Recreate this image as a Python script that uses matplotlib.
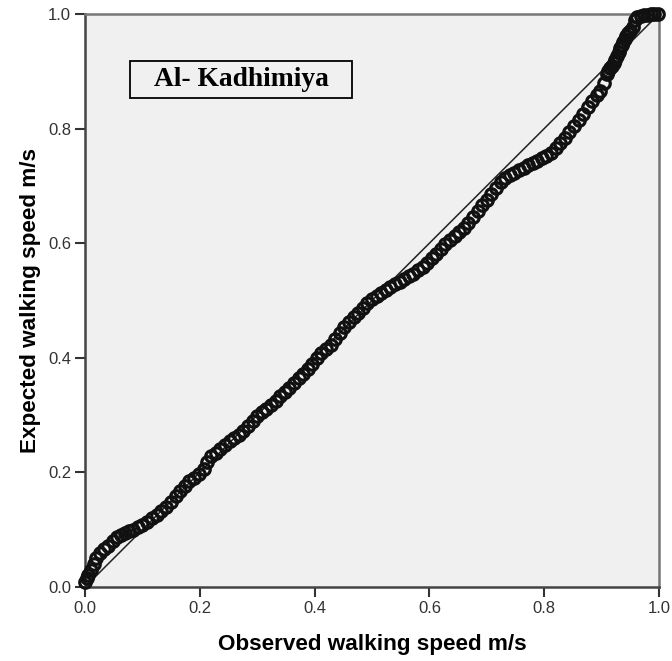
import matplotlib.pyplot as plt
from matplotlib.patches import Rectangle

# observed vs expected cumulative proportions
observed = [0.000, 0.003, 0.005, 0.010, 0.015, 0.020, 0.026, 0.033, 0.040, 0.048,
            0.055, 0.062, 0.070, 0.077, 0.084, 0.092, 0.100, 0.108, 0.116, 0.125,
            0.133, 0.141, 0.150, 0.158, 0.166, 0.174, 0.182, 0.190, 0.199, 0.207,
            0.213, 0.220, 0.228, 0.236, 0.244, 0.252, 0.260, 0.268, 0.276, 0.284,
            0.292, 0.300, 0.308, 0.316, 0.324, 0.332, 0.340, 0.348, 0.356, 0.364,
            0.372, 0.380, 0.388, 0.396, 0.404, 0.412, 0.420, 0.428, 0.436, 0.444,
            0.452, 0.460, 0.468, 0.476, 0.484, 0.492, 0.500, 0.508, 0.516, 0.524,
            0.532, 0.540, 0.548, 0.556, 0.564, 0.572, 0.580, 0.588, 0.596, 0.604,
            0.612, 0.620, 0.628, 0.636, 0.644, 0.652, 0.660, 0.668, 0.676, 0.684,
            0.692, 0.700, 0.708, 0.716, 0.724, 0.732, 0.740, 0.748, 0.756, 0.764,
            0.772, 0.780, 0.788, 0.796, 0.804, 0.812, 0.820, 0.828, 0.836, 0.844,
            0.852, 0.860, 0.868, 0.876, 0.884, 0.892, 0.898, 0.905, 0.909, 0.912,
            0.915, 0.918, 0.921, 0.924, 0.927, 0.930, 0.932, 0.935, 0.937, 0.940,
            0.943, 0.946, 0.949, 0.955, 0.958, 0.962, 0.968, 0.974, 0.980, 0.986,
            0.992, 0.998]
expected = [0.008, 0.015, 0.021, 0.030, 0.040, 0.050, 0.059, 0.066, 0.072, 0.080,
            0.087, 0.091, 0.094, 0.097, 0.100, 0.104, 0.109, 0.114, 0.120, 0.126,
            0.133, 0.140, 0.149, 0.158, 0.168, 0.177, 0.185, 0.190, 0.197, 0.206,
            0.218, 0.228, 0.234, 0.240, 0.247, 0.254, 0.260, 0.266, 0.273, 0.281,
            0.290, 0.298, 0.305, 0.311, 0.318, 0.325, 0.333, 0.341, 0.348, 0.356,
            0.364, 0.372, 0.381, 0.390, 0.400, 0.409, 0.415, 0.422, 0.432, 0.443,
            0.453, 0.462, 0.471, 0.479, 0.487, 0.495, 0.502, 0.508, 0.513, 0.518,
            0.523, 0.528, 0.532, 0.537, 0.542, 0.547, 0.553, 0.559, 0.566, 0.574,
            0.582, 0.590, 0.598, 0.606, 0.613, 0.620, 0.627, 0.636, 0.646, 0.656,
            0.666, 0.676, 0.686, 0.696, 0.706, 0.714, 0.719, 0.723, 0.727, 0.731,
            0.736, 0.740, 0.744, 0.748, 0.752, 0.758, 0.766, 0.775, 0.784, 0.794,
            0.804, 0.815, 0.826, 0.838, 0.849, 0.858, 0.866, 0.880, 0.896, 0.900,
            0.905, 0.909, 0.914, 0.920, 0.926, 0.933, 0.940, 0.946, 0.952, 0.957,
            0.962, 0.966, 0.970, 0.977, 0.990, 0.995, 0.997, 0.998, 0.999, 1.000,
            1.000, 1.000]

ticks = [0.0, 0.2, 0.4, 0.6, 0.8, 1.0]
tick_labels = ["0.0", "0.2", "0.4", "0.6", "0.8", "1.0"]

plt.rcParams['font.family'] = ['Liberation Sans', 'DejaVu Sans']

fig = plt.figure(figsize=(6.72, 6.61), dpi=100)
ax = fig.add_axes([85 / 672, 74 / 661, 574 / 672, 573 / 661])
ax.set_facecolor('#f0f0f0')

ax.plot([0, 1], [0, 1], color='#222222', lw=1.1, zorder=2)
ax.plot(observed, expected, ls='none', marker='o', ms=8.3, mfc='none',
        mec='#111111', mew=2.3, zorder=3, clip_on=False)

ax.set_xlim(0, 1)
ax.set_ylim(0, 1)
ax.set_xticks(ticks)
ax.set_xticklabels(tick_labels)
ax.set_yticks(ticks)
ax.set_yticklabels(tick_labels)
ax.tick_params(direction='out', length=7, width=1.5, color='#333333',
               labelsize=12, labelcolor='#333333', pad=3)

for side in ['left', 'bottom']:
    ax.spines[side].set_color('#444444')
    ax.spines[side].set_linewidth(1.8)
for side in ['top', 'right']:
    ax.spines[side].set_color('#777777')
    ax.spines[side].set_linewidth(1.8)

ax.set_xlabel('Observed walking speed m/s', fontsize=16.2, fontweight='bold', labelpad=13)
ax.set_ylabel('Expected walking speed m/s', fontsize=16.2, fontweight='bold', labelpad=5)

# site label box
ax.add_patch(Rectangle((0.0784, 0.853), 0.387, 0.065, transform=ax.transAxes,
                       facecolor='#f0f0f0', edgecolor='black', lw=1.3, zorder=4))
ax.text(0.272, 0.885, 'Al- Kadhimiya', transform=ax.transAxes, ha='center', va='center',
        fontsize=19.8, fontweight='bold', family='Liberation Serif', zorder=5)

fig.savefig('out.png', dpi=100)
